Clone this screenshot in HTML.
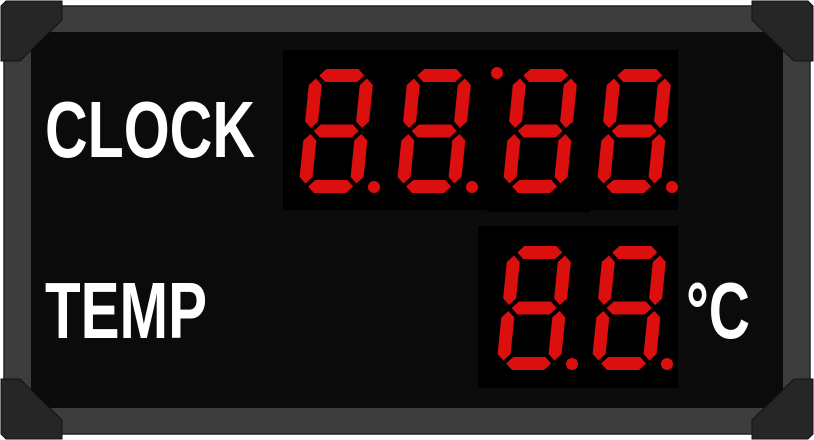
<!DOCTYPE html>
<html><head><meta charset="utf-8"><style>
html,body{margin:0;padding:0;background:#fff;width:814px;height:440px;overflow:hidden}
svg{display:block}
text{font-family:"Liberation Sans",Arial,sans-serif;font-weight:bold;fill:#fff}
</style></head><body>
<svg id="s" width="814" height="440" viewBox="0 0 814 440">
  <rect x="4" y="6" width="806" height="428" rx="6" fill="#3d3d3d" stroke="#222" stroke-width="1.5"/>
  <rect x="31" y="32" width="752" height="376" fill="#0b0b0b"/>
  <polygon points="1,6 6,1 62,1 62,20 20,61 1,61" fill="#262626" stroke="#111"/>
  <polygon points="813,6 808,1 752,1 752,20 794,61 813,61" fill="#262626" stroke="#111"/>
  <polygon points="1,434 6,439 62,439 62,420 20,379 1,379" fill="#262626" stroke="#111"/>
  <polygon points="813,434 808,439 752,439 752,420 794,379 813,379" fill="#262626" stroke="#111"/>
  <rect x="283" y="50" width="395" height="160" fill="#000"/>
  <rect x="487" y="50" width="103" height="162" fill="#000"/>
  <rect x="478" y="226" width="200" height="162" fill="#000"/>
  <text x="45" y="157" font-size="80" textLength="210" lengthAdjust="spacingAndGlyphs">CLOCK</text>
  <text x="45" y="338" font-size="80" textLength="162" lengthAdjust="spacingAndGlyphs">TEMP</text>
  <text x="686" y="338" font-size="80" textLength="64" lengthAdjust="spacingAndGlyphs">°C</text>
  <circle cx="497" cy="73" r="6" fill="#dc0f0f"/>
  <g id="digits"></g>
</svg>
<script>
const digitX=[298,396,502,596,496,591];
const digitBottom=[193,193,193,193,370,370];
const digitDp=[1,1,0,1,1,1];
const NS="http://www.w3.org/2000/svg";
const g=document.getElementById('digits');
const H=124,W=64,t=13,gap=3,sk=0.1,RED="#dc0f0f";
function pt(ox,oy,x,y){return (ox+x+(y)*sk).toFixed(1)+","+(oy-y).toFixed(1);}
function hseg(ox,oy,x0,x1,cy){
  return [[x0,cy],[x0+t/2,cy+t/2],[x1-t/2,cy+t/2],[x1,cy],[x1-t/2,cy-t/2],[x0+t/2,cy-t/2]].map(p=>pt(ox,oy,p[0],p[1])).join(" ");}
function vseg(ox,oy,cx,y0,y1){
  return [[cx,y0],[cx+t/2,y0+t/2],[cx+t/2,y1-t/2],[cx,y1],[cx-t/2,y1-t/2],[cx-t/2,y0+t/2]].map(p=>pt(ox,oy,p[0],p[1])).join(" ");}
digitX.forEach((ox,i)=>{
  const oy=digitBottom[i];
  const segs=[
    hseg(ox,oy,t/2+gap,W-t/2-gap,H-t/2),
    hseg(ox,oy,t/2+gap,W-t/2-gap,H/2),
    hseg(ox,oy,t/2+gap,W-t/2-gap,t/2),
    vseg(ox,oy,t/2,H/2+gap,H-t/2-gap),
    vseg(ox,oy,W-t/2,H/2+gap,H-t/2-gap),
    vseg(ox,oy,t/2,t/2+gap,H/2-gap),
    vseg(ox,oy,W-t/2,t/2+gap,H/2-gap)
  ];
  const grp=document.createElementNS(NS,'g');
  
  
  segs.forEach(p=>{
    const el=document.createElementNS(NS,'polygon');
    el.setAttribute('points',p);el.setAttribute('fill',RED);
    
    
    grp.appendChild(el);
  });
  if(digitDp[i]){
    const c=document.createElementNS(NS,'circle');
    c.setAttribute('cx',ox+W+12);c.setAttribute('cy',oy-6);c.setAttribute('r',6);c.setAttribute('fill',RED);
    
    
    grp.appendChild(c);
  }
  g.appendChild(grp);
});
</script>
</body></html>
